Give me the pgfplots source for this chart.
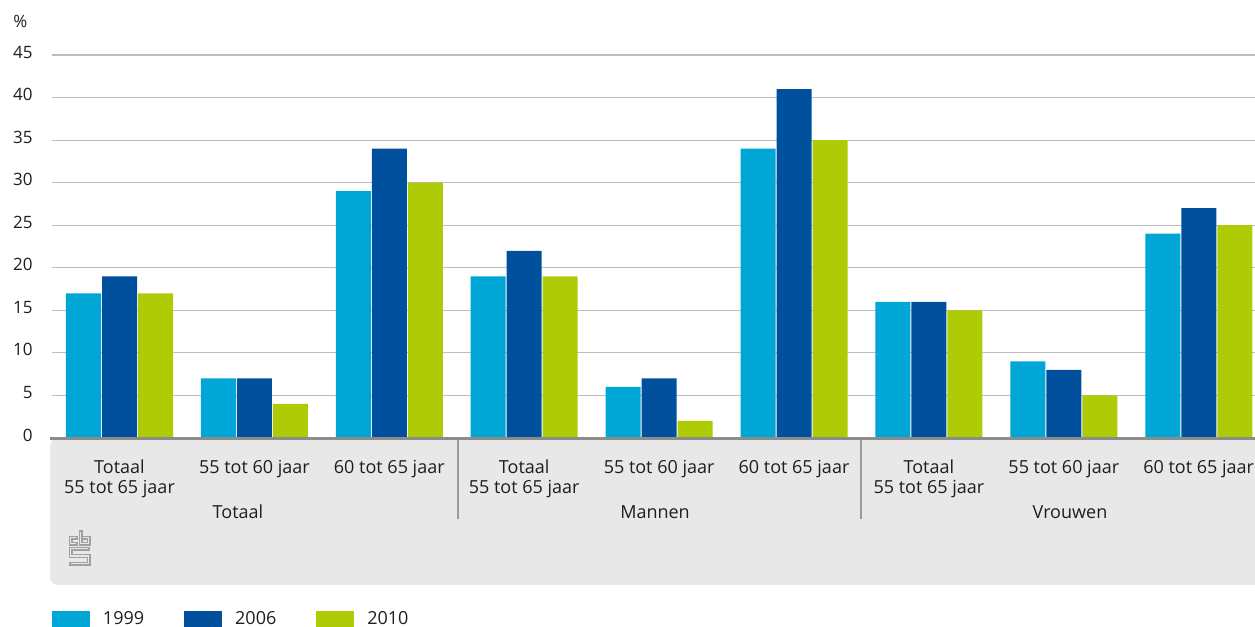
\documentclass[border=0pt]{standalone}
\usepackage{fontspec}
\setmainfont{Open Sans}
\usepackage{pgfplots}
\pgfplotsset{compat=1.18}
\definecolor{c99}{HTML}{00A6D6}
\definecolor{c06}{HTML}{00509E}
\definecolor{c10}{HTML}{AFCB05}
\definecolor{band}{HTML}{E8E8E8}
\definecolor{gridc}{HTML}{BDBDBD}
\definecolor{axc}{HTML}{8C8C8C}
\definecolor{sepc}{HTML}{9A9A9A}
\definecolor{logoc}{HTML}{A0A0A0}
\definecolor{txt}{HTML}{1E1E1E}
\begin{document}
\begin{tikzpicture}[x=0.5pt,y=-0.5pt, font=\fontsize{9}{10}\selectfont, text=txt]
\useasboundingbox (0,0) rectangle (1255,627);
\fill[band, rounded corners=4pt] (50,438) rectangle (1300,585);
\begin{axis}[
  at={(26pt,-219pt)}, anchor=south west,
  scale only axis, width=601.5pt, height=191.5pt,
  xmin=-0.5004, xmax=8.417, ymin=0, ymax=45,
  ybar, bar width=0.2595,
  axis line style={draw=none},
  major tick length=0pt,
  xtick=\empty,
  ytick={0,5,...,45},
  ymajorgrids, grid style={gridc, line width=0.6pt},
  yticklabel style={font=\fontsize{8.5}{10}\selectfont, text=txt, inner sep=0pt, anchor=east, xshift=-9.5pt, yshift=1.5pt},
  /pgf/number format/assume math mode=true,
  legend style={at={(0,0)}, anchor=north west, yshift=-86.5pt, draw=none, fill=none, inner sep=0pt, outer sep=0pt,
    nodes={inner sep=0pt, text=txt}, font=\fontsize{9}{10}\selectfont,
    /tikz/every odd column/.append style={column sep=6.5pt},
    /tikz/every even column/.append style={column sep=20pt}},
  legend columns=3, legend cell align=left,
  legend image code/.code={\fill[#1] (0pt,-4.5pt) rectangle (19pt,4pt);},
]
\addplot[fill=c99, draw=none, bar shift=-0.2669] coordinates {(0,17) (1,7) (2,29) (3,19) (4,6) (5,34) (6,16) (7,9) (8,24)};
\addplot[fill=c06, draw=none, bar shift=0] coordinates {(0,19) (1,7) (2,34) (3,22) (4,7) (5,41) (6,16) (7,8) (8,27)};
\addplot[fill=c10, draw=none, bar shift=0.2669] coordinates {(0,17) (1,4) (2,30) (3,19) (4,2) (5,35) (6,15) (7,5) (8,25)};
\legend{1999,2006,2010}
\end{axis}
\draw[axc, line width=1.5pt] (50,438.5) -- (1300,438.5);
\draw[sepc, line width=1pt] (458,440) -- (458,519);
\draw[sepc, line width=1pt] (861,440) -- (861,519);
\node[anchor=base west, inner sep=0pt, font=\fontsize{8.5}{10}\selectfont] at (13,27) {\%};
% category labels
\foreach \i in {0,3,6} {
  \node[anchor=base, inner sep=0pt] at ({119.5+134.9*\i},473) {Totaal};
  \node[anchor=base, inner sep=0pt] at ({119.5+134.9*\i},493) {55 tot 65 jaar};
}
\foreach \i in {1,4,7} {
  \node[anchor=base, inner sep=0pt] at ({119.5+134.9*\i},473) {55 tot 60 jaar};
}
\foreach \i in {2,5,8} {
  \node[anchor=base, inner sep=0pt] at ({119.5+134.9*\i},473) {60 tot 65 jaar};
}
\node[anchor=base, inner sep=0pt] at (238,518) {Totaal};
\node[anchor=base, inner sep=0pt] at (655,518) {Mannen};
\node[anchor=base, inner sep=0pt] at (1070,518) {Vrouwen};
% logo
\foreach \p in {{(78,537.5) -- (70.5,537.5) -- (70.5,543.5) -- (78,543.5)},
                {(80.5,529.5) -- (80.5,543.5) -- (88.5,543.5) -- (88.5,537.5) -- (80.5,537.5)},
                {(90,548.5) -- (70.5,548.5) -- (70.5,556) -- (88.5,556) -- (88.5,563.5) -- (69,563.5)}} {
  \draw[logoc, line width=2pt, miter limit=4] \p;
  \draw[band, line width=0.8pt, shorten <=1pt, shorten >=1pt] \p;
}
\end{tikzpicture}
\end{document}
